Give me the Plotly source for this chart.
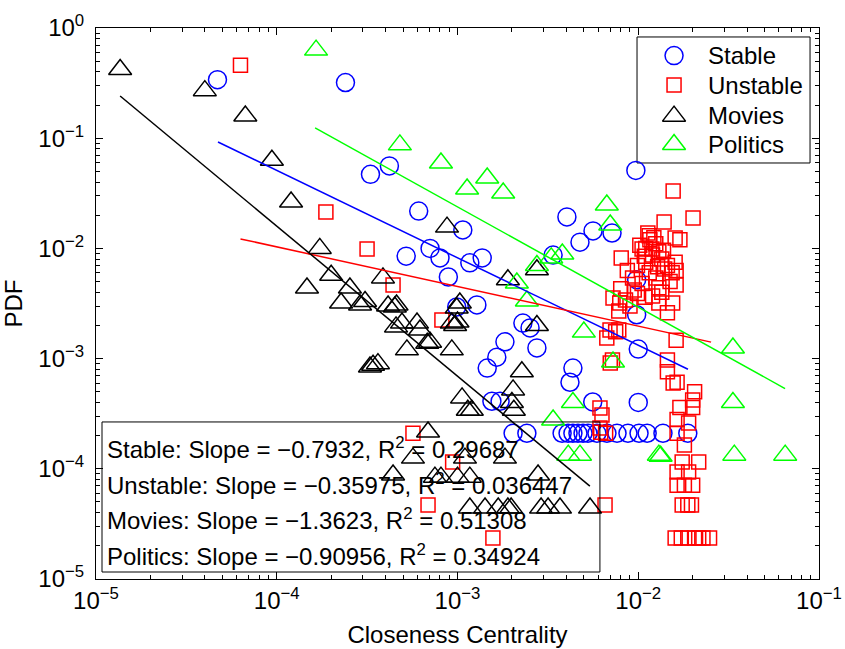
import numpy as np
import plotly.graph_objects as go

# ---------------- data ----------------
stable_x = [4.7e-5, 2.4e-4, 3.3e-4, 4.2e-4, 6.1e-4, 1.07e-3, 7.05e-4, 5.2e-4, 8.0e-4, 1.17e-3,
            1.37e-3, 8.9e-4, 9.9e-4, 1.28e-3, 2.3e-3, 2.52e-3, 1.83e-3, 1.65e-3, 1.46e-3, 2.75e-3,
            4.03e-3, 4.76e-3, 5.62e-3, 7.16e-3, 3.38e-3, 4.35e-3, 4.19e-3, 5.6e-3, 1.55e-3, 1.72e-3,
            9.7e-3, 9.8e-3, 9.8e-3, 1.0e-2, 1.0e-2,
            2.03e-3, 2.42e-3, 3.79e-3, 4.09e-3, 4.35e-3, 4.64e-3, 4.95e-3, 5.27e-3, 5.91e-3, 6.71e-3,
            7.63e-3, 8.77e-3, 1.01e-2, 1.12e-2, 1.37e-2, 1.88e-2]
stable_y = [0.34, 0.32, 0.047, 0.056, 0.0218, 0.0147, 0.0100, 0.0085, 0.0082, 0.0074,
            0.0082, 0.0055, 0.00294, 0.00307, 0.0021, 0.0019, 0.00142, 0.00103, 0.00082, 0.00125,
            0.0193, 0.0114, 0.0144, 0.0138, 0.0087, 0.00082, 0.00061, 0.000404, 0.00041, 0.00041,
            0.051, 0.0052, 0.0025, 0.00122, 0.0004,
            2.1e-4, 2.1e-4, 2.1e-4, 2.1e-4, 2.1e-4, 2.1e-4, 2.1e-4, 2.1e-4, 2.1e-4, 2.1e-4,
            2.1e-4, 2.1e-4, 2.1e-4, 2.1e-4, 2.1e-4, 2.1e-4]

unstable_x = [6.3e-5, 1.87e-4, 3.16e-4, 4.4e-4, 8.2e-4, 5.67e-4, 9.4e-4, 6.87e-4, 1.57e-3, 6.55e-3,
              6.14e-3, 6.3e-3, 6.14e-3, 6.6e-3, 6.2e-3,
              1.56e-2, 2.01e-2, 1.39e-2, 1.13e-2, 1.6e-2, 1.7e-2, 1.16e-2, 1.02e-2, 8.05e-3, 1.05e-2,
              1.19e-2, 1.3e-2, 1.6e-2, 1.45e-2, 1.54e-2, 1.62e-2, 9.9e-3, 8.7e-3, 9.3e-3, 1.25e-2,
              1.62e-2, 1.3e-2, 8.0e-3, 7.25e-3, 9.9e-3, 8.5e-3, 7.9e-3, 1.3e-2, 1.55e-2, 1.45e-2,
              7.8e-3, 1.09e-2, 6.98e-3, 7.5e-3, 7.8e-3, 6.7e-3, 7.0e-3, 7.2e-3, 1.62e-2, 1.45e-2,
              1.45e-2, 1.56e-2, 1.64e-2, 2.05e-2, 2.0e-2, 2.0e-2, 1.7e-2, 1.9e-2, 1.64e-2, 1.64e-2,
              1.8e-2, 2.16e-2, 1.75e-2, 1.64e-2, 1.9e-2, 1.64e-2, 2.0e-2, 1.8e-2, 1.75e-2, 1.88e-2,
              1.97e-2, 1.6e-2, 1.73e-2, 1.88e-2, 2.05e-2, 2.16e-2, 2.28e-2, 2.48e-2,
              1.1e-2, 1.2e-2, 1.25e-2, 1.35e-2, 1.4e-2, 1.15e-2, 1.05e-2, 9.5e-3, 1.2e-2, 1.35e-2,
              1.5e-2, 1.1e-2, 1.28e-2, 1.38e-2, 9.0e-3, 1.15e-2, 1.22e-2, 1.08e-2]
unstable_y = [0.46, 0.0214, 0.0099, 0.00466, 0.00224, 2.1e-4, 1.15e-4, 4.7e-5, 2.36e-5, 4.7e-5,
              3.56e-4, 3.08e-4, 2.35e-4, 2.1e-4, 2.15e-4,
              0.0332, 0.0189, 0.0174, 0.0138, 0.0124, 0.0120, 0.0120, 0.0107, 0.0082, 0.0099,
              0.0099, 0.0093, 0.0075, 0.0070, 0.0060, 0.0063, 0.0070, 0.0063, 0.0054, 0.0054,
              0.00466, 0.0044, 0.0043, 0.00355, 0.0039, 0.0034, 0.0032, 0.0032, 0.0032, 0.0026,
              0.0027, 0.0036, 0.00182, 0.00175, 0.00182, 0.00154, 0.00091, 0.00097, 0.00147, 0.00097,
              7.6e-4, 6.0e-4, 6.1e-4, 5.0e-4, 4.2e-4, 3.6e-4, 3.6e-4, 2.6e-4, 2.8e-4, 2.1e-4,
              1.64e-4, 1.15e-4, 1.15e-4, 9.35e-5, 9.35e-5, 7.1e-5, 7.1e-5, 7.1e-5, 4.7e-5, 4.7e-5,
              4.7e-5, 2.36e-5, 2.36e-5, 2.36e-5, 2.36e-5, 2.36e-5, 2.36e-5, 2.36e-5,
              0.0100, 0.0087, 0.0110, 0.0080, 0.0065, 0.0060, 0.0048, 0.0042, 0.0037, 0.0040,
              0.0050, 0.0075, 0.0068, 0.0096, 0.0030, 0.0130, 0.0125, 0.0085]

movies_x = [1.36e-5, 4.0e-5, 6.7e-5, 9.4e-5, 1.2e-4, 1.73e-4, 2.0e-4, 1.47e-4, 2.54e-4, 2.27e-4,
            2.89e-4, 3.08e-4, 3.87e-4, 4.13e-4, 4.5e-4, 4.57e-4, 3.41e-4, 3.63e-4, 3.28e-4, 8.75e-4,
            4.6e-4, 4.93e-4, 5.97e-4, 6.2e-4, 7.05e-4, 6.8e-4, 5.25e-4, 9.3e-4, 1.03e-3, 9.9e-4,
            9.3e-4, 9.7e-4, 1.0e-3, 1.9e-3, 2.75e-3, 2.75e-3, 2.27e-3, 2.03e-3, 2.0e-3, 1.06e-3,
            1.14e-3, 1.2e-3, 6.87e-4, 5.67e-4, 1.1e-3, 1.83e-3, 4.4e-4, 7.5e-4, 8.1e-4, 1.0e-3,
            1.17e-3, 2.79e-3, 1.17e-3, 1.42e-3, 1.68e-3, 1.9e-3, 1.98e-3, 2.9e-3, 3.17e-3, 3.69e-3,
            5.41e-3, 2.05e-3]
movies_y = [0.42, 0.27, 0.159, 0.063, 0.0264, 0.0100, 0.0057, 0.00437, 0.00437, 0.0032,
            0.00306, 0.0033, 0.0054, 0.0030, 0.00294, 0.00194, 8.7e-4, 9.0e-4, 8.4e-4, 0.0156,
            0.00307, 0.0021, 0.0021, 0.00182, 0.00141, 0.00138, 0.0012, 0.0012, 0.0032, 0.00288,
            0.0021, 0.0020, 0.00215, 0.0052, 0.0064, 0.0020, 7.6e-4, 5.2e-4, 4.0e-4, 4.4e-4,
            3.4e-4, 3.4e-4, 2.16e-4, 1.25e-4, 1.25e-4, 1.25e-4, 8.8e-5, 8.4e-5, 8.4e-5, 8.4e-5,
            8.4e-5, 8.8e-5, 4.4e-5, 4.4e-5, 4.4e-5, 4.4e-5, 4.4e-5, 4.4e-5, 4.4e-5, 4.4e-5,
            4.4e-5, 3.4e-4]

politics_x = [1.65e-4, 4.8e-4, 8.1e-4, 1.13e-3, 1.46e-3, 1.79e-3, 6.7e-3, 7.0e-3, 3.8e-3, 3.3e-3,
              2.75e-3, 2.13e-3, 2.42e-3, 5.0e-3, 7.25e-3, 4.35e-3, 3.38e-3, 4.1e-3, 4.76e-3, 1.3e-2,
              1.33e-2, 3.34e-2, 3.34e-2, 3.4e-2, 6.5e-2]
politics_y = [0.63, 0.087, 0.0596, 0.0346, 0.0435, 0.0318, 0.0248, 0.0163, 0.0089, 0.0082,
              0.0070, 0.00485, 0.00333, 0.00174, 9.3e-4, 4.0e-4, 2.77e-4, 1.33e-4, 1.33e-4, 1.33e-4,
              1.3e-4, 1.25e-3, 4.0e-4, 1.33e-4, 1.33e-4]

# power-law fits: log10(y) = intercept + slope*log10(x)
series_names = ["Stable", "Unstable", "Movies", "Politics"]
fit_slope = [-0.7932, -0.35975, -1.3623, -0.90956]
fit_r2 = ["0.29687", "0.036447", "0.51308", "0.34924"]
fit_intercept = [-4.465, -3.425, -7.247, -4.352]
fit_xmin = [4.73e-5, 6.3e-5, 1.36e-5, 1.63e-4]
fit_xmax = [1.884e-2, 2.53e-2, 5.4e-3, 6.49e-2]
fit_slope_txt = ["\u22120.7932", "\u22120.35975", "\u22121.3623", "\u22120.90956"]

# ---------------- styles ----------------
colors = ["#0000ff", "#ff0000", "#000000", "#00ff00"]
symbols = ["circle-open", "square-open", "triangle-up-open", "triangle-up-open"]
sizes = [18, 14, 20, 20]
FONT = "Liberation Sans, Arial, Helvetica, sans-serif"
TXT = dict(family=FONT, size=24, color="black")

fig = go.Figure()
series = [(stable_x, stable_y), (unstable_x, unstable_y), (movies_x, movies_y), (politics_x, politics_y)]
for i, (xs, ys) in enumerate(series):
    fig.add_trace(go.Scatter(
        x=xs, y=ys, mode="markers", name=series_names[i], showlegend=False,
        marker=dict(symbol=symbols[i], size=sizes[i], color=colors[i],
                    line=dict(color=colors[i], width=1.5)),
    ))

for i in range(4):
    xl = np.array([fit_xmin[i], fit_xmax[i]])
    yl = 10 ** (fit_intercept[i] + fit_slope[i] * np.log10(xl))
    fig.add_trace(go.Scatter(x=xl, y=yl, mode="lines", showlegend=False,
                             line=dict(color=colors[i], width=1.5)))

# ---- legend drawn on a hidden unit-square overlay axis (MATLAB-like compact legend) ----
leg_marker_x = 0.7995
leg_marker_y = [0.950, 0.8966, 0.840, 0.7886]
leg_text_y = [0.950, 0.896, 0.842, 0.788]
for i in range(4):
    fig.add_trace(go.Scatter(
        x=[leg_marker_x], y=[leg_marker_y[i]], xaxis="x2", yaxis="y2", mode="markers",
        showlegend=False, hoverinfo="skip",
        marker=dict(symbol=symbols[i], size=sizes[i], color=colors[i],
                    line=dict(color=colors[i], width=1.5)),
    ))
    fig.add_annotation(xref="paper", yref="paper", x=0.8437, y=leg_text_y[i],
                       xanchor="left", yanchor="middle", showarrow=False,
                       text=series_names[i], font=TXT)
fig.add_shape(type="rect", xref="paper", yref="paper", x0=0.7483, x1=0.9876, y0=0.755, y1=0.9837,
              line=dict(color="black", width=1), fillcolor="white", layer="below")

major_x = [10.0 ** k for k in range(-5, 0)]
major_y = [10.0 ** k for k in range(-5, 1)]
minor_vals = [m * 10.0 ** k for k in range(-5, 0) for m in range(2, 10)]

def sup_labels(vals):
    out = []
    for v in vals:
        p = int(round(np.log10(v)))
        out.append("10<sup>" + ("\u2212" if p < 0 else "") + str(abs(p)) + "</sup>")
    return out

axis_common = dict(
    type="log", showgrid=False, zeroline=False, showline=True, linecolor="black", linewidth=1,
    mirror="allticks", ticks="inside", ticklen=7, tickcolor="black", tickwidth=1,
    tickfont=TXT, tickmode="array", automargin=False,
    minor=dict(ticks="inside", ticklen=4, tickcolor="black", tickmode="array", tickvals=minor_vals,
               showgrid=False),
)

fig.update_layout(
    xaxis=dict(**axis_common, range=[-5, -1], tickvals=major_x, ticktext=sup_labels(major_x),
               title=dict(text="Closeness Centrality", font=TXT, standoff=13)),
    yaxis=dict(**axis_common, range=[-5, 0], tickvals=major_y, ticktext=sup_labels(major_y),
               ticklabelstandoff=6,
               title=dict(text="PDF", font=TXT, standoff=10)),
    xaxis2=dict(overlaying="x", range=[0, 1], visible=False, fixedrange=True),
    yaxis2=dict(overlaying="y", range=[0, 1], visible=False, fixedrange=True),
)

# text box with fit statistics
fig.add_shape(type="rect", xref="paper", yref="paper", x0=0.0083, x1=0.697, y0=0.0127, y1=0.285,
              line=dict(color="black", width=1), fillcolor="rgba(0,0,0,0)", layer="above")
line_y = [0.238, 0.173, 0.109, 0.044]
for i in range(4):
    fig.add_annotation(
        xref="paper", yref="paper", x=0.0124, y=line_y[i], xanchor="left", yanchor="middle",
        showarrow=False,
        text=f"{series_names[i]}: Slope = {fit_slope_txt[i]}, R<sup>2</sup> = {fit_r2[i]}",
        font=TXT,
    )

fig.update_layout(
    width=845, height=649,
    margin=dict(l=96, r=26, t=28, b=70, autoexpand=False),
    paper_bgcolor="white", plot_bgcolor="white",
    font=TXT, showlegend=False,
)

fig.write_html("out.html")
